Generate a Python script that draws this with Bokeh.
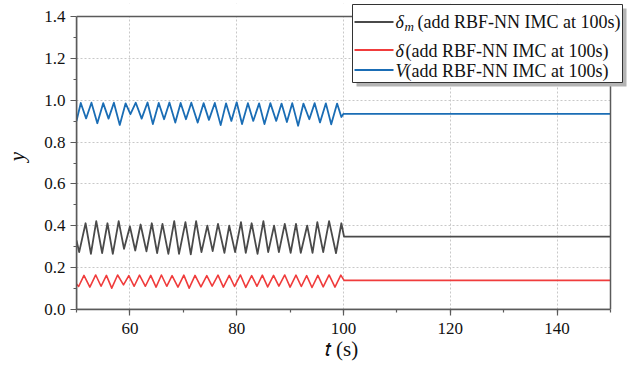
from bokeh.plotting import figure
from bokeh.models import (SingleIntervalTicker, FixedTicker, PrintfTickFormatter, Label,
                          BoxAnnotation, Range1d)
from bokeh.embed import file_html
from bokeh.resources import INLINE

# ---------------- data (extrema of the oscillations) -------------
t_V = [50.0, 50.8, 51.8, 52.8, 53.9, 55.0, 56.0, 57.0, 58.1, 59.2, 60.1, 61.1, 62.2,
       63.3, 64.3, 65.4, 66.4, 67.4, 68.5, 69.5, 70.5, 71.5, 72.7, 73.8, 74.8, 75.9,
       77.0, 78.0, 79.0, 80.0, 81.0, 82.1, 83.1, 84.2, 85.2, 86.3, 87.4, 88.4, 89.4,
       90.4, 91.5, 92.5, 93.6, 94.6, 95.6, 96.7, 97.7, 98.8, 99.6, 100.0, 150.0]
V = [0.900, 0.987, 0.913, 0.988, 0.890, 0.986, 0.912, 0.988, 0.882, 0.985, 0.933,
     0.988, 0.912, 0.989, 0.886, 0.987, 0.909, 0.989, 0.893, 0.987, 0.909, 0.988,
     0.893, 0.986, 0.906, 0.987, 0.881, 0.985, 0.901, 0.990, 0.886, 0.986, 0.901,
     0.985, 0.886, 0.986, 0.901, 0.984, 0.896, 0.986, 0.878, 0.984, 0.909, 0.986,
     0.894, 0.985, 0.885, 0.984, 0.920, 0.935, 0.935]

t_dm = [50.0, 50.5, 51.7, 52.7, 53.7, 54.8, 55.8, 56.8, 57.9, 58.9, 60.0, 61.0, 62.0,
        63.1, 64.1, 65.1, 66.1, 67.2, 68.3, 69.2, 70.4, 71.4, 72.4, 73.4, 74.5, 75.5,
        76.5, 77.7, 78.6, 79.7, 80.8, 81.7, 82.8, 83.9, 85.0, 85.9, 87.0, 87.9, 89.0,
        90.1, 91.1, 92.0, 93.2, 94.2, 95.1, 96.2, 97.3, 98.6, 99.6, 100.1, 150.0]
dm = [0.330, 0.274, 0.412, 0.266, 0.422, 0.270, 0.412, 0.266, 0.422, 0.290, 0.397,
      0.282, 0.406, 0.278, 0.412, 0.270, 0.409, 0.266, 0.422, 0.266, 0.417, 0.263,
      0.422, 0.274, 0.401, 0.279, 0.409, 0.271, 0.401, 0.274, 0.417, 0.271, 0.412,
      0.266, 0.422, 0.274, 0.401, 0.274, 0.409, 0.271, 0.409, 0.271, 0.401, 0.271,
      0.417, 0.274, 0.422, 0.269, 0.412, 0.348, 0.348]

t_d = [50.0, 50.4, 51.4, 52.5, 53.6, 54.6, 55.6, 56.6, 57.7, 58.8, 59.8, 60.8, 61.8,
       62.9, 63.9, 64.9, 65.9, 66.9, 67.9, 69.0, 70.1, 71.1, 72.2, 73.3, 74.4, 75.4,
       76.5, 77.5, 78.6, 79.6, 80.7, 81.7, 82.8, 83.8, 84.8, 85.8, 86.9, 87.9, 89.0,
       90.0, 91.1, 92.1, 93.1, 94.1, 95.2, 96.2, 97.3, 98.4, 99.5, 100.1, 150.0]
d = [0.122, 0.110, 0.163, 0.107, 0.165, 0.111, 0.163, 0.102, 0.165, 0.118, 0.162,
     0.111, 0.164, 0.111, 0.163, 0.107, 0.165, 0.111, 0.162, 0.107, 0.164, 0.102,
     0.163, 0.108, 0.162, 0.112, 0.164, 0.107, 0.163, 0.110, 0.165, 0.106, 0.162,
     0.111, 0.164, 0.108, 0.163, 0.112, 0.165, 0.107, 0.164, 0.110, 0.162, 0.105,
     0.163, 0.108, 0.165, 0.107, 0.164, 0.139, 0.139]

y_ticks = [0.0, 0.2, 0.4, 0.6, 0.8, 1.0, 1.2, 1.4]
y_minor = [0.1, 0.3, 0.5, 0.7, 0.9, 1.1, 1.3]
x_lim = (50, 150)
y_lim = (0.0, 1.4)
legend_text = "(add RBF-NN IMC at 100s)"

C_DM = "#4a4a4a"
C_D = "#f03c3c"
C_V = "#1a6db5"
AX = "#5a5a5a"
SERIF = "'Liberation Serif', serif"

# ---------------- geometry (page pixels) -------------
FL, FR, FT, FB = 76, 610, 16, 309      # data box of the reference
EXT_R, EXT_T = 627, 3                  # frame extended so the legend fits inside
W, H = 630, 366
xs = (x_lim[1] - x_lim[0]) / (FR - FL)
ys = (y_lim[1] - y_lim[0]) / (FB - FT)
x_end = x_lim[1] + (EXT_R - FR) * xs
y_end = y_lim[1] + (FT - EXT_T) * ys

p = figure(width=W, height=H, output_backend="svg", toolbar_location=None,
           x_range=Range1d(x_lim[0], x_end), y_range=Range1d(y_lim[0], y_end),
           min_border_left=FL, min_border_right=W - EXT_R, min_border_top=EXT_T,
           min_border_bottom=H - FB)
p.background_fill_color = "white"
p.border_fill_color = "white"
p.outline_line_color = None

p.line(t_dm, dm, line_color=C_DM, line_width=1.8, line_join="round")
p.line(t_d, d, line_color=C_D, line_width=1.6, line_join="round")
p.line(t_V, V, line_color=C_V, line_width=1.8, line_join="round")

p.xaxis.ticker = SingleIntervalTicker(interval=20, num_minor_ticks=2)
p.yaxis.ticker = FixedTicker(ticks=y_ticks, minor_ticks=y_minor)
p.yaxis.formatter = PrintfTickFormatter(format="%.1f")
p.xaxis.bounds = x_lim
p.yaxis.bounds = y_lim
for ax in list(p.xaxis) + list(p.yaxis):
    ax.axis_line_color = AX
    ax.axis_line_width = 1.5
    ax.major_tick_line_color = AX
    ax.minor_tick_line_color = AX
    ax.major_tick_line_width = 1.2
    ax.minor_tick_line_width = 1.2
    ax.major_tick_out = 6
    ax.major_tick_in = 0
    ax.minor_tick_out = 3
    ax.minor_tick_in = 0
    ax.major_label_text_font = SERIF
    ax.major_label_text_font_size = "17px"
    ax.major_label_text_color = "#111111"
    ax.axis_label_text_font = SERIF
    ax.axis_label_text_font_size = "21px"
    ax.axis_label_text_color = "#111111"

p.yaxis.major_label_standoff = 5
p.xaxis.major_label_standoff = 7
p.yaxis.axis_label = "y"
p.yaxis.axis_label_text_font_style = "italic"
p.yaxis.axis_label_standoff = 12
# trailing em space keeps the title centred on the data box, not on the wider frame
p.xaxis.axis_label = "\U0001D461 (s)\u2003"
p.xaxis.axis_label_text_font_style = "normal"
p.xaxis.axis_label_standoff = 0

for g in (p.xgrid, p.ygrid):
    g.grid_line_color = "#c8c8c8"
    g.grid_line_dash = "2 2"
    g.grid_line_width = 1

def box(**kw):
    b = BoxAnnotation(**kw)
    p.add_layout(b)
    return b

# hide the grid outside the data box, then draw the box itself
box(bottom=y_lim[1], fill_color="white", fill_alpha=1, line_color=None)
box(left=x_lim[1], fill_color="white", fill_alpha=1, line_color=None)
box(left=x_lim[0], right=x_lim[1], bottom=y_lim[0], top=y_lim[1], fill_alpha=0,
    line_color=AX, line_width=1.5, line_alpha=1)

def sx(px):
    return px - FL
def sy(py):
    return FB - py
SCR = dict(left_units="screen", right_units="screen", top_units="screen",
           bottom_units="screen")

# legend (shadow, box, sample lines, texts)
box(left=sx(356), right=sx(626), top=sy(8), bottom=sy(86), fill_color="#b4b4b4",
    fill_alpha=1, line_color=None, **SCR)
box(left=sx(352), right=sx(622), top=sy(4), bottom=sy(82), fill_color="white",
    fill_alpha=1, line_color="#333333", line_width=1, line_alpha=1, **SCR)
rows = [(21.5, C_DM), (49.5, C_D), (69.5, C_V)]
for yy, col in rows:
    box(left=sx(354), right=sx(393), top=sy(yy - 0.9), bottom=sy(yy + 0.9),
        fill_color=col, fill_alpha=1, line_color=None, **SCR)

def txt(x, y, s, size="18px", style="normal", align="left"):
    p.add_layout(Label(x=sx(x), y=sy(y), x_units="screen", y_units="screen", text=s,
                       text_align=align, text_baseline="middle", text_font=SERIF,
                       text_font_style=style, text_font_size=size,
                       text_color="#111111"))

txt(395, 21, "δ", style="italic")
txt(404, 26, "m", size="13px", style="italic")
txt(417, 21, legend_text)
txt(395, 50, "δ", style="italic")
txt(405, 50, legend_text)
txt(395, 70, "V", style="italic")
txt(405, 70, legend_text)

open("out.html", "w").write(file_html(p, INLINE))
